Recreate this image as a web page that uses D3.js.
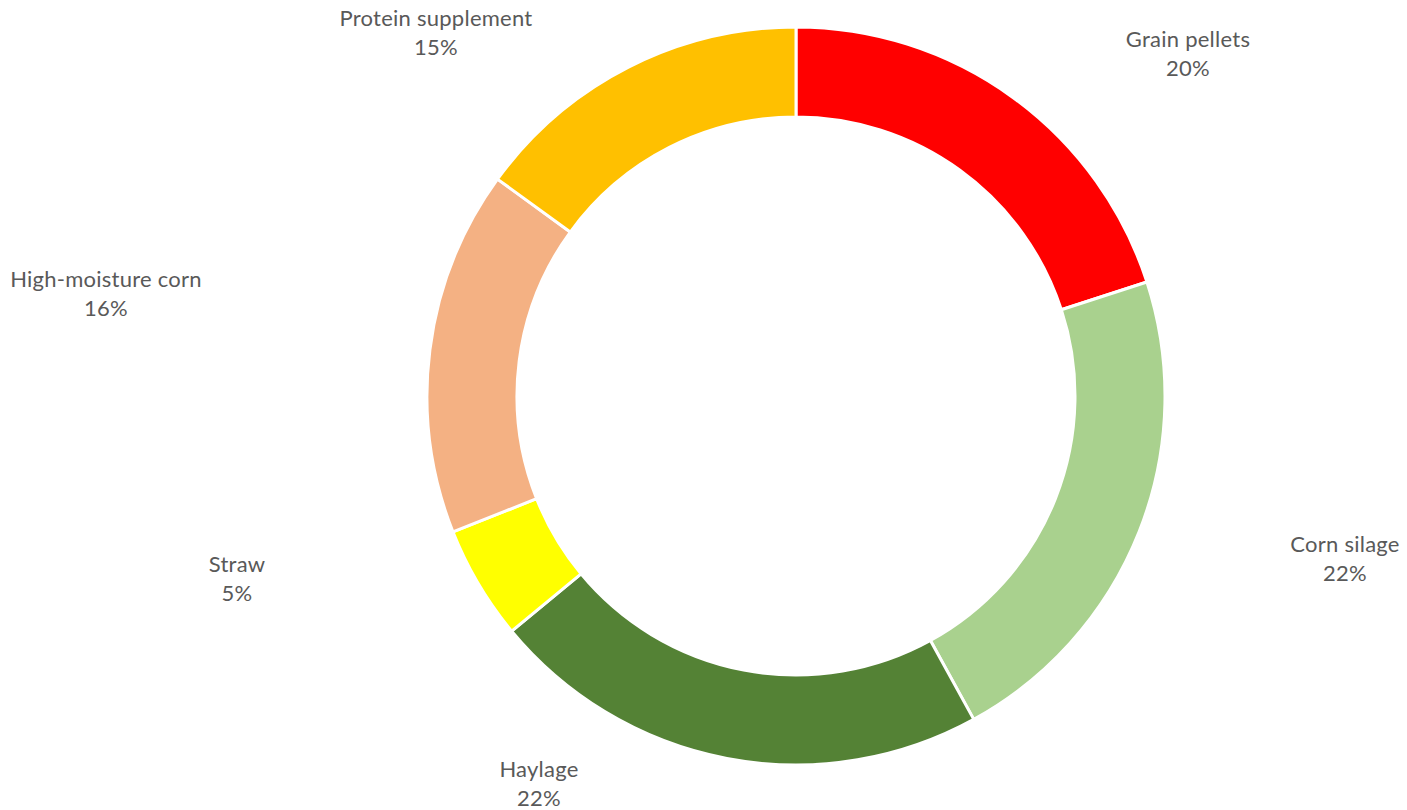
<!DOCTYPE html>
<html>
<head>
<meta charset="utf-8">
<script src="https://cdn.jsdelivr.net/npm/d3@7/dist/d3.min.js"></script>
<style>
  html, body { margin: 0; padding: 0; background: #ffffff; }
  svg { display: block; }
  .lbl { font-family: Lato, "Liberation Sans", sans-serif; font-size: 22px; letter-spacing: 0.25px; fill: #595959; }
</style>
</head>
<body>
<svg id="chart" width="1407" height="810"></svg>
<script>
// Feed ration shares
const categories = ["Grain pellets", "Corn silage", "Haylage", "Straw", "High-moisture corn", "Protein supplement"];
const shares = [20, 22, 22, 5, 16, 15];
const colors = ["#FF0000", "#A9D18E", "#548235", "#FFFF00", "#F4B183", "#FFC000"];

// Label anchor offsets from the ring centre (first-line baseline)
const labelOffsets = [[392, -349], [549, 156], [-257, 381], [-559, 176], [-690, -109], [-360, -370]];

const width = 1407, height = 810;
const cx = 796, cy = 396;
const outerR = 369, innerR = 279;

const svg = d3.select("#chart");
const g = svg.append("g").attr("transform", `translate(${cx},${cy})`);

const data = categories.map((c, i) => ({ name: c, value: shares[i], color: colors[i], off: labelOffsets[i] }));

const pie = d3.pie().value(d => d.value).sort(null);
const arc = d3.arc().innerRadius(innerR).outerRadius(outerR);

const arcs = pie(data);

g.selectAll("path.slice")
  .data(arcs)
  .join("path")
  .attr("class", "slice")
  .attr("d", arc)
  .attr("fill", d => d.data.color)
  .attr("stroke", "#ffffff")
  .attr("stroke-width", 3)
  .attr("stroke-linejoin", "round");

const total = d3.sum(shares);
const pct = d3.format(".0%");

const labels = g.selectAll("text.lbl")
  .data(arcs)
  .join("text")
  .attr("class", "lbl")
  .attr("text-anchor", "middle")
  .attr("transform", d => `translate(${d.data.off[0]},${d.data.off[1]})`);

labels.append("tspan").attr("x", 0).attr("y", 0).text(d => d.data.name);
labels.append("tspan").attr("x", 0).attr("y", 28.5).text(d => pct(d.data.value / total));
</script>
</body>
</html>
